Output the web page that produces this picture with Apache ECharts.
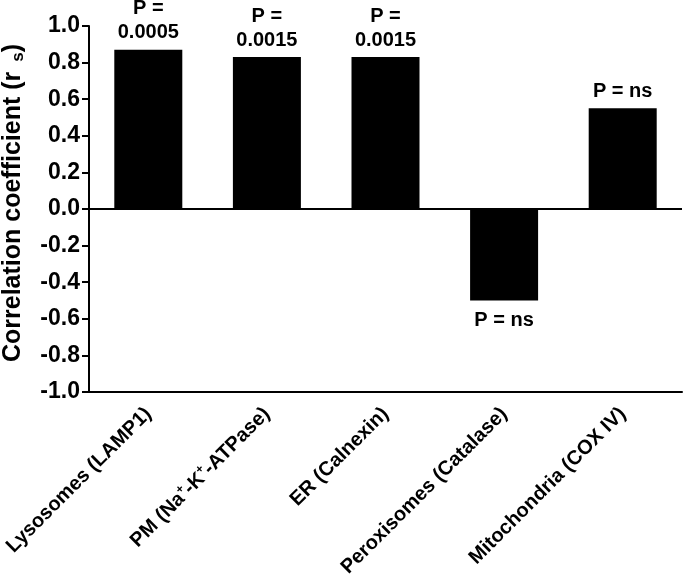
<!DOCTYPE html>
<html>
<head>
<meta charset="utf-8">
<script src="https://cdn.jsdelivr.net/npm/echarts@6/dist/echarts.min.js"></script>
<style>html,body{margin:0;padding:0;background:#fff}#c{width:683px;height:577px}</style>
</head>
<body>
<div id="c"></div>
<script>
var categories = ['Lysosomes (LAMP1)', 'PM (Na{sup|+}-K{sup|+}-ATPase)', 'ER (Calnexin)', 'Peroxisomes (Catalase)', 'Mitochondria (COX IV)'];
var values = [0.87, 0.83, 0.83, -0.50, 0.55];
var pLabels = ['P =\n0.0005', 'P =\n0.0015', 'P =\n0.0015', 'P = ns', 'P = ns'];
var yTicks = { min: -1.0, max: 1.0, interval: 0.2 };

var FONT = 'Liberation Sans, Arial, sans-serif';
var chart = echarts.init(document.getElementById('c'));
var data = values.map(function (v, i) {
  return {
    value: v,
    label: { position: v < 0 ? 'bottom' : 'top', distance: v < 0 ? 8 : 5, formatter: pLabels[i] }
  };
});
chart.setOption({
  animation: false,
  backgroundColor: '#fff',
  grid: { left: 89, right: 1, top: 26, bottom: 185, containLabel: false, outerBoundsMode: 'none' },
  xAxis: {
    type: 'category',
    data: categories,
    axisLine: { onZero: false, lineStyle: { color: '#000', width: 2 } },
    axisTick: { alignWithLabel: true, length: 5, lineStyle: { color: '#000', width: 2 } },
    axisLabel: {
      rotate: 45, interval: 0, margin: 19, color: '#000', fontFamily: FONT,
      fontWeight: 'bold', fontSize: 20,
      rich: { sup: { fontSize: 12, fontWeight: 'bold', fontFamily: FONT, color: '#000', padding: [0, 0, 12, 0] } }
    }
  },
  yAxis: {
    type: 'value',
    min: yTicks.min, max: yTicks.max, interval: yTicks.interval,
    axisLine: { show: true, lineStyle: { color: '#000', width: 2 } },
    axisTick: { show: true, length: 7, lineStyle: { color: '#000', width: 2 } },
    splitLine: { show: false },
    axisLabel: {
      margin: 9, color: '#000', fontFamily: FONT, fontWeight: 'bold', fontSize: 23,
      formatter: function (v) { return v.toFixed(1); }
    }
  },
  graphic: [{
    type: 'text',
    x: 13, y: 203,
    rotation: Math.PI / 2,
    style: {
      text: 'Correlation coefficient (r {sub|s})',
      align: 'center', verticalAlign: 'middle',
      fill: '#000', font: 'bold 25px ' + FONT,
      rich: { sub: { fontSize: 17, fontWeight: 'bold', fontFamily: FONT, fill: '#000', padding: [10, 0, 0, 3] } }
    }
  }],
  series: [{
    type: 'bar',
    data: data,
    barWidth: 68,
    itemStyle: { color: '#000' },
    label: {
      show: true, color: '#000', fontFamily: FONT, fontWeight: 'bold', fontSize: 20,
      lineHeight: 24, align: 'center'
    },
    markLine: {
      silent: true, symbol: 'none', animation: false,
      label: { show: false },
      lineStyle: { color: '#000', width: 2, type: 'solid' },
      data: [{ yAxis: 0 }]
    }
  }]
});
</script>
</body>
</html>
